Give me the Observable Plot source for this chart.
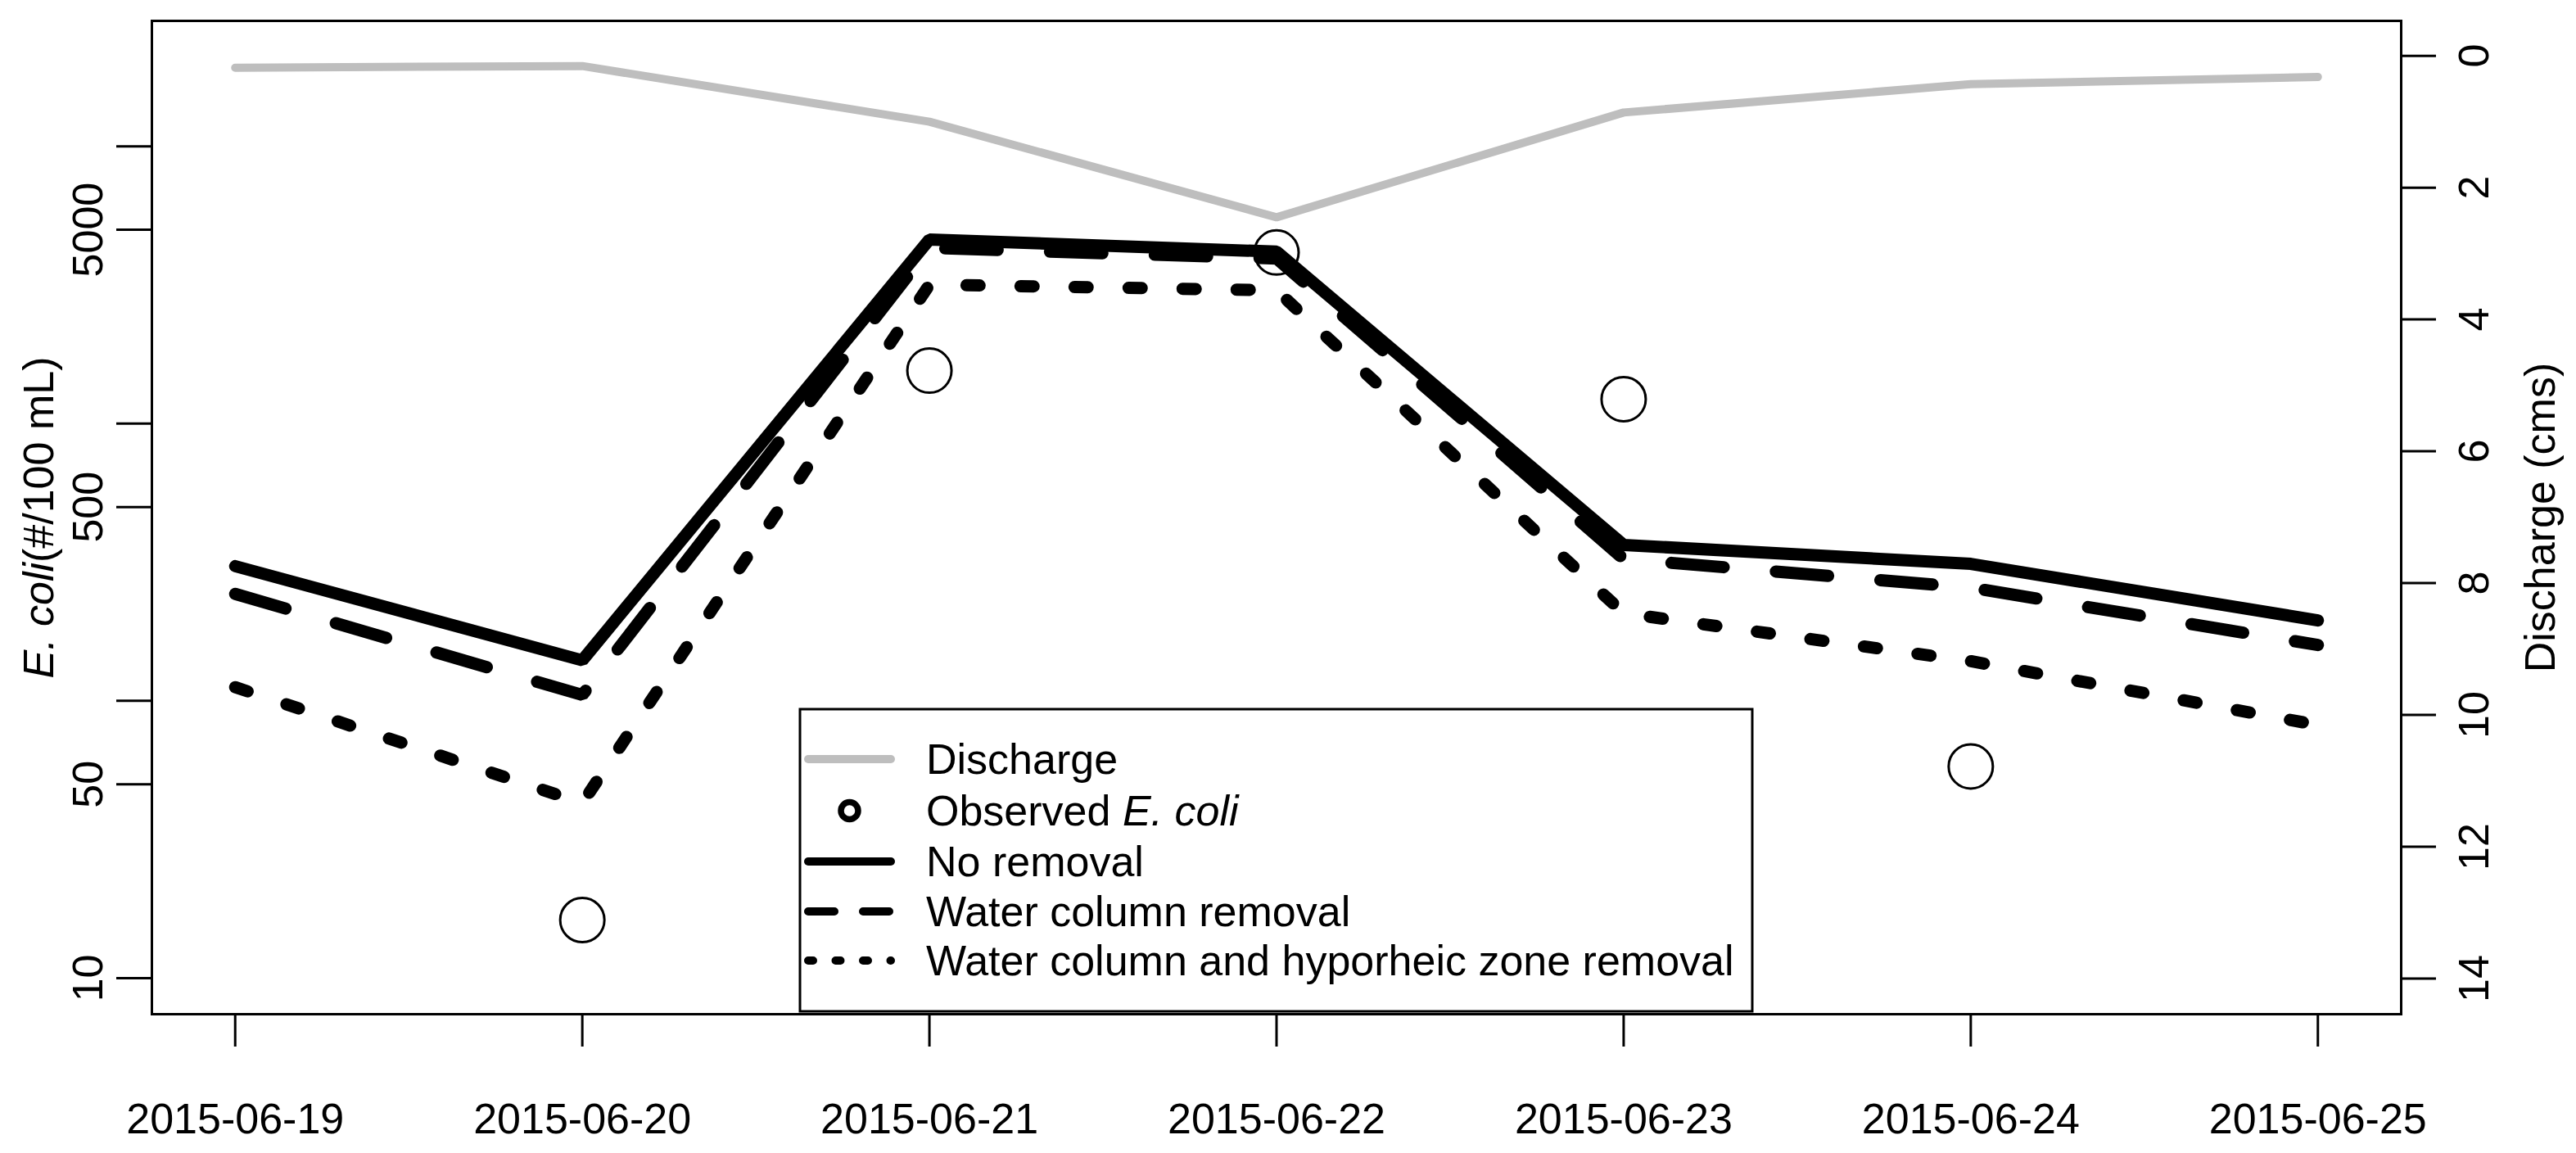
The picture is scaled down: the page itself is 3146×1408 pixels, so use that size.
<!DOCTYPE html>
<html><head><meta charset="utf-8">
<script src="https://cdn.jsdelivr.net/npm/d3@7"></script>
<script src="https://cdn.jsdelivr.net/npm/@observablehq/plot@0.6"></script>
<style>html,body{margin:0;padding:0;background:#fff;overflow:hidden}</style>
</head><body><div id="chart"></div>
<script>
// ---- data ----
const dates = ["2015-06-19","2015-06-20","2015-06-21","2015-06-22","2015-06-23","2015-06-24","2015-06-25"];
const discharge = [0.18, 0.155, 1.0, 2.45, 0.86, 0.43, 0.32];          // cms (right axis, reversed)
const noRemoval = [306, 140, 4610, 4170, 365, 312, 195];              // E. coli #/100 mL
const waterColumn = [243, 105, 4300, 3940, 325, 256, 159];
const waterHyporheic = [112, 42.8, 3170, 3025, 207, 139, 81.8];
const observedDates = ["2015-06-20","2015-06-21","2015-06-22","2015-06-23","2015-06-24"];
const observed = [16.2, 1552, 4140, 1225, 58];
const leftTicks = [10, 50, 100, 500, 1000, 5000, 10000];
const leftLabels = [10, 50, 500, 5000];
const rightTicks = [0, 2, 4, 6, 8, 10, 12, 14];
const yDomain = [7.41, 28340];          // left (log) axis extent, bottom..top
const rightDomain = [-0.53, 14.54];     // discharge extent, top..bottom
const legendLabels = ["Discharge", "Observed ", "No removal", "Water column removal", "Water column and hyporheic zone removal"];

// ---- helpers ----
const parse = d3.utcParse("%Y-%m-%d");
const xs = dates.map(parse);
const DAY = 864e5;
const logTop = Math.log10(yDomain[1]), logBot = Math.log10(yDomain[0]);
const toE = d => Math.pow(10, logTop + (d - rightDomain[0]) / (rightDomain[1] - rightDomain[0]) * (logBot - logTop));

const FONT = "Liberation Sans, Arial, Helvetica, sans-serif";
const FS = 52;

const seriesLine = (vals, extra) => Plot.line(vals, Object.assign({
  x: (d, i) => xs[i], y: d => d, stroke: "black", strokeWidth: 15,
  strokeLinejoin: "miter", strokeLinecap: "round"
}, extra));

const chart = Plot.plot({
  width: 3146, height: 1408,
  marginLeft: 185, marginRight: 214, marginTop: 25, marginBottom: 170,
  style: {fontFamily: FONT, background: "white", color: "black"},
  x: {type: "utc", domain: [new Date(+xs[0] - 0.24 * DAY), new Date(+xs[6] + 0.24 * DAY)]},
  y: {type: "log", domain: yDomain},
  marks: [
    Plot.line(discharge, {x: (d, i) => xs[i], y: d => toE(d), stroke: "#BEBEBE", strokeWidth: 10, strokeLinejoin: "round", strokeLinecap: "round"}),
    Plot.dot(observed, {x: (d, i) => parse(observedDates[i]), y: d => d, r: 27, stroke: "black", strokeWidth: 3, fill: "none"}),
    seriesLine(noRemoval, {}),
    seriesLine(waterColumn, {strokeDasharray: "64,64"}),
    seriesLine(waterHyporheic, {strokeDasharray: "16,50"}),
    Plot.frame({stroke: "black", strokeWidth: 3}),
    // left axis
    Plot.axisY(leftTicks, {anchor: "left", tickSize: 43, tickFormat: () => "", strokeWidth: 3, label: null}),
    Plot.text(leftLabels, {y: d => d, text: d => String(d), frameAnchor: "left", dx: -77, rotate: -90,
      fontSize: FS, textAnchor: "middle", lineAnchor: "middle", fill: "black"}),
    // right axis
    Plot.axisY(rightTicks.map(toE), {anchor: "right", tickSize: 42, tickFormat: () => "", strokeWidth: 3, label: null}),
    Plot.text(rightTicks, {y: d => toE(d), text: d => String(d), frameAnchor: "right", dx: 90, rotate: -90,
      fontSize: FS, textAnchor: "middle", lineAnchor: "middle", fill: "black"}),
    // x axis
    Plot.axisX(xs, {anchor: "bottom", tickSize: 40, tickFormat: () => "", strokeWidth: 3, label: null}),
    Plot.text(xs, {x: d => d, text: (d, i) => dates[i], frameAnchor: "bottom", dy: 129,
      fontSize: FS, textAnchor: "middle", lineAnchor: "middle", fill: "black"}),
    // axis titles
    Plot.text(["E. coli"], {frameAnchor: "left", dx: -137, dy: 55, rotate: -90, fontSize: FS, fontStyle: "italic",
      textAnchor: "end", lineAnchor: "middle", fill: "black"}),
    Plot.text(["(#/100 mL)"], {frameAnchor: "left", dx: -137, dy: 55, rotate: -90, fontSize: FS,
      textAnchor: "start", lineAnchor: "middle", fill: "black"}),
    Plot.text(["Discharge (cms)"], {frameAnchor: "right", dx: 171, rotate: -90, fontSize: FS,
      textAnchor: "middle", lineAnchor: "middle", fill: "black"})
  ]
});
document.getElementById("chart").appendChild(chart);

// ---- legend ----
const svg = d3.select(chart);
const lg = svg.append("g").attr("font-family", FONT).attr("font-size", FS).attr("fill", "black")
  .attr("text-anchor", "start");
lg.append("rect").attr("x", 977).attr("y", 866).attr("width", 1163).attr("height", 369)
  .attr("fill", "white").attr("stroke", "black").attr("stroke-width", 3);
const rowY = [927, 990, 1052, 1113, 1173];
const x0 = 987, x1 = 1088, tx = 1131;
const sample = (y, stroke, w, dash) => lg.append("line").attr("x1", x0).attr("x2", x1).attr("y1", y).attr("y2", y)
  .attr("stroke", stroke).attr("stroke-width", w).attr("stroke-linecap", "round").attr("stroke-dasharray", dash || null);
sample(rowY[0], "#BEBEBE", 10);
lg.append("circle").attr("cx", (x0 + x1) / 2).attr("cy", rowY[1]).attr("r", 10.5).attr("fill", "none")
  .attr("stroke", "black").attr("stroke-width", 7.5);
sample(rowY[2], "black", 10);
sample(rowY[3], "black", 10, "32,35");
sample(rowY[4], "black", 10, "6,27.5");
legendLabels.forEach((t, i) => {
  const el = lg.append("text").attr("x", tx).attr("y", rowY[i]).attr("dy", "0.35em").attr("text-anchor", "start");
  el.append("tspan").text(t);
  if (i === 1) el.append("tspan").attr("font-style", "italic").text("E. coli");
});
</script>
</body></html>
